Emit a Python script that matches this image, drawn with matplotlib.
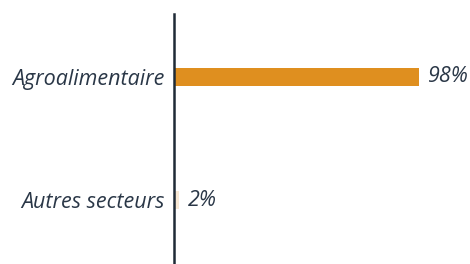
import matplotlib.pyplot as plt

categories = ['Agroalimentaire', 'Autres secteurs']
values = [98, 2]
labels = ['98%', '2%']
colors = ['#df8f1f', '#f8e8d4']

plt.rcParams['font.family'] = ['Open Sans', 'DejaVu Sans']
text_color = '#2a3747'

fig = plt.figure(figsize=(4.7, 2.64), dpi=100)
ax = fig.add_axes([0.370, 0.0, 0.532, 0.947])

pos = range(len(categories))
ax.barh(pos, values, height=0.14, color=colors)
for p, v, lab in zip(pos, values, labels):
    ax.text(v + 3.5, p, lab, va='center', ha='left', fontsize=15.5,
            style='italic', color=text_color)

ax.set_xlim(0, 100)
ax.set_ylim(1.52, -0.512)
ax.set_yticks(list(pos))
ax.set_yticklabels(categories, fontsize=15.5, style='italic', color=text_color)
ax.tick_params(axis='y', length=0, pad=7)
ax.set_xticks([])
for s in ['top', 'right', 'bottom']:
    ax.spines[s].set_visible(False)
ax.spines['left'].set_color('#1f2a36')
ax.spines['left'].set_linewidth(1.8)

fig.savefig('out.png', dpi=100)
